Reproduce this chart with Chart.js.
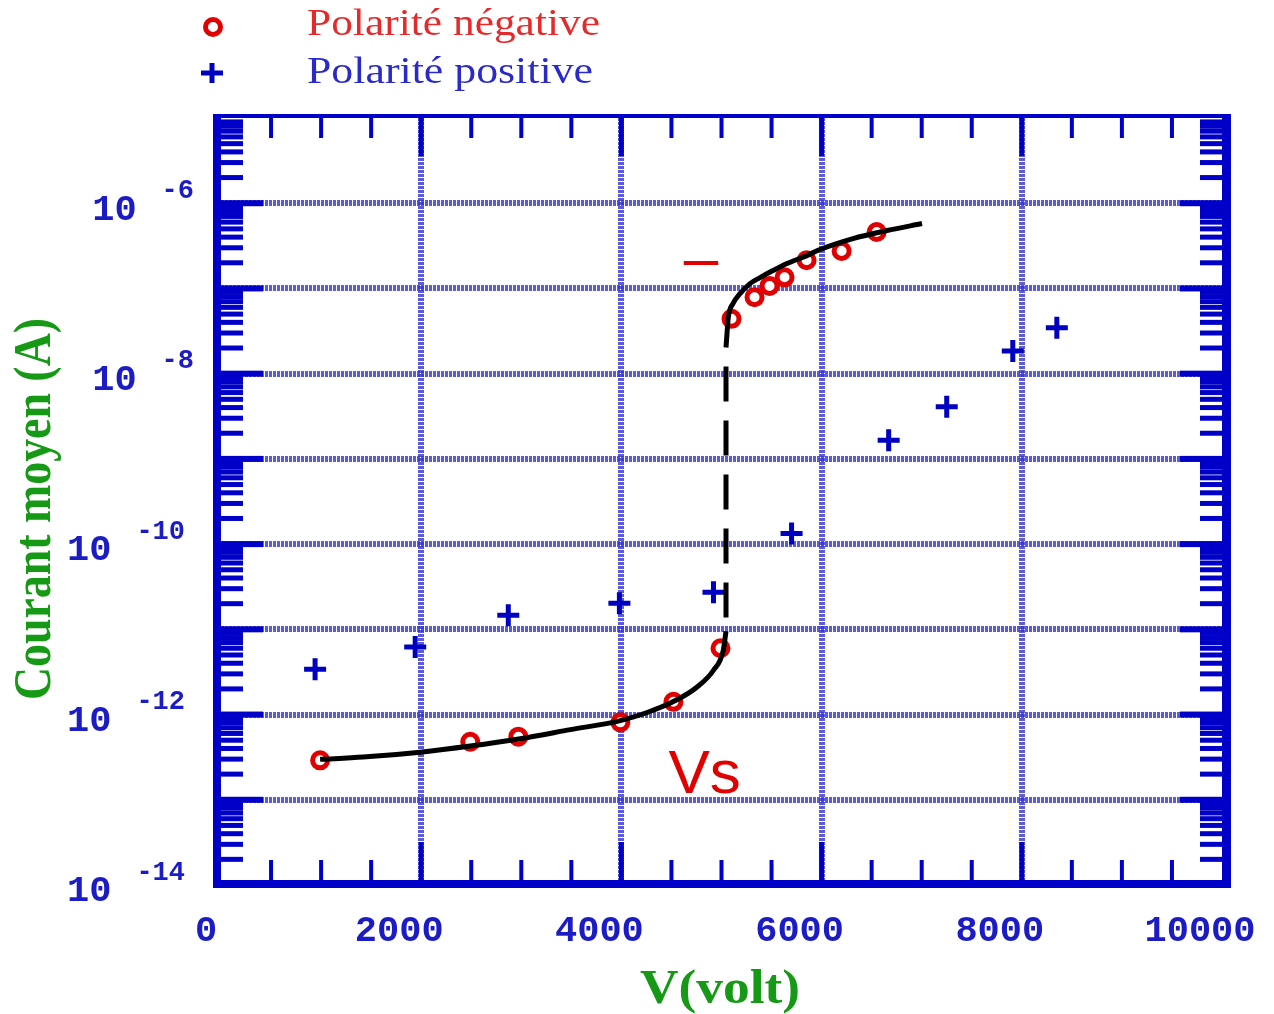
<!DOCTYPE html>
<html>
<head>
<meta charset="utf-8">
<script src="https://cdn.jsdelivr.net/npm/chart.js@4.4.0/dist/chart.umd.min.js"></script>
<style>
  html, body { margin: 0; padding: 0; background: #fff; }
</style>
</head>
<body>
<canvas id="myChart" width="1274" height="1014"></canvas>
<script>
// Polarité négative (cercles rouges)
const negV = [990, 2490, 2970, 3990, 4520, 4990, 5100, 5330, 5480, 5630, 5850, 6200, 6550];
const negI = [2.9e-13, 4.8e-13, 5.5e-13, 8.1e-13, 1.41e-12, 6.0e-12, 4.4e-8, 7.9e-8, 1.07e-7, 1.35e-7, 2.14e-7, 2.75e-7, 4.6e-7];

// Polarité positive (croix bleues)
const posV = [940, 1940, 2870, 3980, 4920, 5700, 6670, 7250, 7910, 8350];
const posI = [3.4e-12, 6.2e-12, 1.46e-11, 2.02e-11, 2.72e-11, 1.33e-10, 1.65e-9, 4.1e-9, 1.84e-8, 3.45e-8];

// courbe noire
const fitLowV = [990, 1420, 1990, 2490, 2990, 3490, 3990, 4250, 4515, 4750, 4920, 5018, 5045];
const fitLowI = [2.98e-13, 3.17e-13, 3.62e-13, 4.27e-13, 5.21e-13, 6.65e-13, 8.49e-13, 1.05e-12, 1.41e-12, 2.08e-12, 3.31e-12, 5.69e-12, 9.5e-12];
const jumpV = [5045, 5045];
const jumpI = [2.03e-8, 9.5e-12];
const fitHighV = [5045, 5055, 5068, 5115, 5185, 5285, 5385, 5514, 5654, 5854, 5984, 6314, 6653, 7003];
const fitHighI = [2.03e-8, 2.96e-8, 4.56e-8, 6.65e-8, 8.7e-8, 1.14e-7, 1.34e-7, 1.62e-7, 1.96e-7, 2.43e-7, 2.86e-7, 3.85e-7, 4.78e-7, 5.77e-7];

// ticks
const xTicks = [0, 2000, 4000, 6000, 8000, 10000];
const yExpLabels = [-6, -8, -10, -12, -14];
const yDecades = [-14, -13, -12, -11, -10, -9, -8, -7, -6, -5];

const BLUE = '#0000c8';
const LABEL_BLUE = '#1c1cc4';
const RED = '#e00000';
const GREEN = '#169a16';
const GRID = 'rgba(50,50,210,0.8)';

const pts = (xs, ys) => xs.map((v, i) => ({x: v, y: ys[i]}));

function fitText(ctx, txt, x, y, w) {
  const k = w / ctx.measureText(txt).width;
  ctx.save();
  ctx.translate(x, y);
  ctx.scale(k, 1);
  ctx.fillText(txt, 0, 0);
  ctx.restore();
}

const decor = {
  id: 'decor',
  beforeDatasetsDraw(chart) {
    const {ctx, chartArea: a, scales: {x, y}} = chart;
    ctx.save();
    ctx.fillStyle = BLUE;
    // cadre
    ctx.fillRect(a.left - 8, a.top - 4, 8, a.bottom - a.top + 7);
    ctx.fillRect(a.right, a.top - 4, 9, a.bottom - a.top + 7);
    ctx.fillRect(a.left - 8, a.top - 4, a.right - a.left + 17, 4);
    ctx.fillRect(a.left - 8, a.bottom - 5, a.right - a.left + 17, 8);
    // graduations x (tous les 500 V)
    for (let v = 500; v < 10000; v += 500) {
      const px = x.getPixelForValue(v);
      const major = v % 2000 === 0;
      const len = major ? 38 : 20;
      const w = major ? 5 : 4;
      ctx.fillRect(px - w / 2, a.bottom - 5 - len, w, len);
      ctx.fillRect(px - w / 2, a.top, w, len);
    }
    // graduations y (log)
    for (let d = -14; d <= -6; d++) {
      for (let m = 1; m <= 9; m++) {
        const v = m * Math.pow(10, d);
        if (d === -14 && m === 1) continue;
        const py = y.getPixelForValue(v);
        const len = m === 1 ? 42 : 22;
        const h = m === 1 ? 6 : 5;
        ctx.fillRect(a.left, py - h / 2, len, h);
        ctx.fillRect(a.right - len, py - h / 2, len, h);
      }
    }
    ctx.restore();
  },
  afterDraw(chart) {
    const {ctx, chartArea: a, scales: {x, y}} = chart;
    ctx.save();
    ctx.fillStyle = LABEL_BLUE;
    // labels x
    ctx.font = 'bold 37px "Liberation Mono"';
    ctx.textAlign = 'center';
    ctx.textBaseline = 'middle';
    xTicks.forEach(v => {
      const off = v === 0 ? -15 : -22;
      ctx.fillText(String(v), x.getPixelForValue(v) + off, 932);
    });
    // labels y : 10^n
    ctx.textAlign = 'right';
    yExpLabels.forEach(e => {
      const py = y.getPixelForValue(Math.pow(10, e));
      ctx.font = 'bold 27px "Liberation Mono"';
      const sup = '-' + Math.abs(e);
      const sw = ctx.measureText(sup).width;
      const right = Math.abs(e) >= 10 ? 185 : 194;
      ctx.fillText(sup, right, py - 12);
      ctx.font = 'bold 37px "Liberation Mono"';
      ctx.fillText('10', right - sw - 25, py + 7);
    });

    // titres d'axes
    ctx.fillStyle = GREEN;
    ctx.save();
    ctx.translate(37, 509);
    ctx.rotate(-Math.PI / 2);
    ctx.font = 'bold 52px "Liberation Serif"';
    ctx.textAlign = 'center';
    ctx.textBaseline = 'middle';
    fitText(ctx, 'Courant moyen (A)', 0, 0, 382);
    ctx.restore();

    ctx.font = 'bold 48px "Liberation Serif"';
    ctx.textAlign = 'center';
    ctx.textBaseline = 'alphabetic';
    fitText(ctx, 'V(volt)', 720, 1003, 160);

    // annotations
    ctx.fillStyle = RED;
    ctx.font = '62px "Liberation Sans"';
    ctx.textAlign = 'left';
    ctx.fillText('Vs', x.getPixelForValue(4470), y.getPixelForValue(1.2e-13));
    ctx.textAlign = 'center';
    ctx.fillText('\u2013', x.getPixelForValue(4795), y.getPixelForValue(2.0e-7) + 16);

    // légende
    ctx.beginPath();
    ctx.arc(213, 27, 7.5, 0, Math.PI * 2);
    ctx.fillStyle = '#fff';
    ctx.fill();
    ctx.lineWidth = 5;
    ctx.strokeStyle = RED;
    ctx.stroke();
    ctx.beginPath();
    ctx.moveTo(201, 73); ctx.lineTo(223, 73);
    ctx.moveTo(212, 63); ctx.lineTo(212, 83);
    ctx.strokeStyle = '#0000c0';
    ctx.stroke();

    ctx.font = '38px "Liberation Serif"';
    ctx.textAlign = 'left';
    ctx.fillStyle = '#e42a2a';
    fitText(ctx, 'Polarité négative', 307, 35, 293);
    ctx.fillStyle = '#2a2ac8';
    fitText(ctx, 'Polarité positive', 307, 83, 286);
    ctx.restore();
  }
};

const ctx = document.getElementById('myChart');
const myChart = new Chart(ctx, {
  type: 'scatter',
  data: {
    datasets: [
      {
        label: 'fit bas',
        type: 'line',
        data: pts(fitLowV, fitLowI),
        borderColor: '#000',
        borderWidth: 5,
        pointRadius: 0,
        cubicInterpolationMode: 'monotone',
        fill: false
      },
      {
        label: 'saut',
        type: 'line',
        data: pts(jumpV, jumpI),
        borderColor: '#000',
        borderWidth: 5,
        borderDash: [35, 19],
        borderDashOffset: 35,
        pointRadius: 0,
        fill: false
      },
      {
        label: 'fit haut',
        type: 'line',
        data: pts(fitHighV, fitHighI),
        borderColor: '#000',
        borderWidth: 5,
        pointRadius: 0,
        cubicInterpolationMode: 'monotone',
        fill: false
      },
      {
        label: 'Polarité négative',
        data: pts(negV, negI),
        pointStyle: 'circle',
        pointRadius: 7.5,
        borderWidth: 5,
        borderColor: RED,
        backgroundColor: '#fff'
      },
      {
        label: 'Polarité positive',
        data: pts(posV, posI),
        pointStyle: 'cross',
        pointRadius: 11,
        borderWidth: 5,
        borderColor: '#0000c0'
      }
    ]
  },
  options: {
    responsive: false,
    animation: false,
    devicePixelRatio: 1,
    layout: { padding: { left: 221, right: 52, top: 118, bottom: 129 } },
    plugins: {
      legend: { display: false },
      tooltip: { enabled: false }
    },
    scales: {
      x: {
        type: 'linear',
        min: 0,
        max: 10000,
        ticks: { display: false, stepSize: 2000 },
        border: { display: false, dash: [3, 1] },
        grid: {
          drawTicks: false,
          lineWidth: 6,
          color: c => (c.tick && (c.tick.value === 0 || c.tick.value === 10000)) ? 'rgba(0,0,0,0)' : GRID
        },
        afterFit: s => { s.height = 0; }
      },
      y: {
        type: 'logarithmic',
        min: 1e-14,
        max: 1e-5,
        afterBuildTicks: s => { s.ticks = yDecades.map(e => ({value: Math.pow(10, e)})); },
        ticks: { display: false },
        border: { display: false, dash: [3, 1] },
        grid: {
          drawTicks: false,
          lineWidth: 6,
          color: c => (c.tick && (c.tick.value <= 1.01e-14 || c.tick.value >= 0.99e-5)) ? 'rgba(0,0,0,0)' : GRID
        },
        afterFit: s => { s.width = 0; }
      }
    }
  },
  plugins: [decor]
});
</script>
</body>
</html>
